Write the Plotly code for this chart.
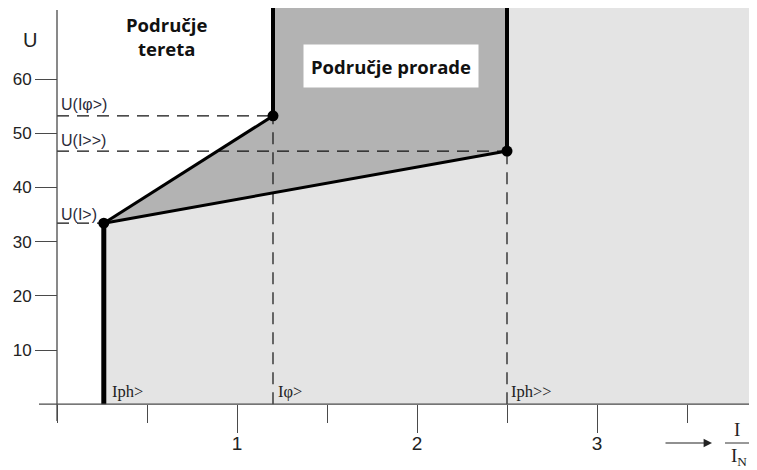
import plotly.graph_objects as go

# ---- data ----
I_ph_lo = 0.26      # Iph>
I_phi = 1.2         # Iphi>
I_ph_hi = 2.5       # Iph>>
U_lo = 33.4         # U(I>)
U_phi = 53.2        # U(Iphi>)
U_hi = 46.7         # U(I>>)
U_top = 73.1
I_right = 3.85
y_ticks = [10, 20, 30, 40, 50, 60]
x_major = [1, 2, 3]
x_major_labels = ["1", "2", "3"]

# page has an 8px body margin -> figure drawn 8px smaller and offset
OFF = 8
W, H = 757 - OFF, 470 - OFF
PX_X0, PX_PER_X = 57, 180.0        # page pixel of x=0
PX_Y0, PX_PER_Y = 404.2, 5.42      # page pixel of y=0
FX0, FY0 = PX_X0 - OFF, PX_Y0 - OFF  # figure pixels
xr = [-FX0 / PX_PER_X, (W - FX0) / PX_PER_X]
yr = [-(H - FY0) / PX_PER_Y, FY0 / PX_PER_Y]
def px_x(p): return (p - PX_X0) / PX_PER_X
def px_y(p): return (PX_Y0 - p) / PX_PER_Y

fig = go.Figure()

# light region
fig.add_trace(go.Scatter(
    x=[I_ph_lo, I_ph_lo, I_ph_hi, I_ph_hi, I_right, I_right],
    y=[0, U_lo, U_hi, U_top, U_top, 0],
    fill="toself", fillcolor="#e4e4e4", line=dict(width=0), mode="lines",
    hoverinfo="skip"))
# dark region
fig.add_trace(go.Scatter(
    x=[I_ph_lo, I_phi, I_phi, I_ph_hi, I_ph_hi, I_ph_lo],
    y=[U_lo, U_phi, U_top, U_top, U_hi, U_lo],
    fill="toself", fillcolor="#b3b3b3", line=dict(width=0), mode="lines",
    hoverinfo="skip"))

dash = "12px,8px"
# dashed guides
for xs, ys in [
    ([0, I_phi], [U_phi, U_phi]),
    ([0, I_ph_hi], [U_hi, U_hi]),
    ([0, I_ph_lo], [U_lo, U_lo]),
    ([I_phi, I_phi], [0, U_phi]),
    ([I_ph_hi, I_ph_hi], [0, U_hi]),
]:
    fig.add_trace(go.Scatter(x=xs, y=ys, mode="lines",
                             line=dict(color="#111", width=1.2, dash=dash),
                             hoverinfo="skip"))

# thick boundary lines
top_line = px_y(4)
fig.add_trace(go.Scatter(x=[I_ph_lo, I_ph_lo], y=[0, U_lo], mode="lines",
                         line=dict(color="black", width=5), hoverinfo="skip"))
fig.add_trace(go.Scatter(x=[I_ph_lo, I_phi], y=[U_lo, U_phi], mode="lines",
                         line=dict(color="black", width=3), hoverinfo="skip"))
fig.add_trace(go.Scatter(x=[I_ph_lo, I_ph_hi], y=[U_lo, U_hi], mode="lines",
                         line=dict(color="black", width=3), hoverinfo="skip"))
fig.add_trace(go.Scatter(x=[I_phi, I_phi], y=[U_phi, top_line], mode="lines",
                         line=dict(color="black", width=4), hoverinfo="skip"))
fig.add_trace(go.Scatter(x=[I_ph_hi, I_ph_hi], y=[U_hi, top_line], mode="lines",
                         line=dict(color="black", width=4), hoverinfo="skip"))
fig.add_trace(go.Scatter(x=[I_ph_lo, I_phi, I_ph_hi], y=[U_lo, U_phi, U_hi],
                         mode="markers", marker=dict(color="black", size=11),
                         hoverinfo="skip"))

axis_col = "#4a4a4a"
shapes = [
    # x axis line
    dict(type="line", xref="x", yref="y", x0=px_x(39), x1=xr[1], y0=0, y1=0,
         line=dict(color=axis_col, width=1.3)),
    # y axis line
    dict(type="line", xref="x", yref="y", x0=0, x1=0, y0=px_y(421), y1=px_y(10),
         line=dict(color=axis_col, width=1.3)),
    # fraction bar
    dict(type="line", xref="x", yref="y", x0=px_x(725), x1=px_x(752),
         y0=px_y(443), y1=px_y(443), line=dict(color="#333", width=1)),
]

ann = []
lab_font = dict(family="Liberation Sans, Arial", size=16, color="#2a2a3a")
for txt, yy in [("U(Iφ>)", px_y(104)), ("U(I>>)", px_y(140)), ("U(I>)", px_y(214))]:
    ann.append(dict(x=px_x(59), y=yy, text=txt, showarrow=False, xanchor="left",
                    yanchor="middle", font=lab_font))
ser_font = dict(family="Liberation Serif, Times New Roman", size=16.5, color="#222")
for txt, xx in [("Iph>", px_x(110)), ("Iφ>", px_x(276)), ("Iph>>", px_x(509))]:
    ann.append(dict(x=xx, y=px_y(391), text=txt, showarrow=False, xanchor="left",
                    yanchor="middle", font=ser_font))
bold = dict(family="Open Sans, Noto Sans", size=18.5, color="#111")
ann.append(dict(x=px_x(166), y=px_y(36), text="<b>Područje<br>tereta</b>",
                showarrow=False, font=bold, align="center"))
ann.append(dict(x=px_x(391), y=px_y(66), text="<b>Područje prorade</b>",
                showarrow=False, font=bold, bgcolor="white", width=172, height=40))
ann.append(dict(x=px_x(30), y=px_y(40), text="U", showarrow=False,
                font=dict(family="Liberation Sans, Arial", size=20, color="#222")))
# y-axis arrow head
ann.append(dict(x=0, y=px_y(3), ax=0, ay=22, xref="x", yref="y", text="",
                showarrow=True, arrowhead=2, arrowsize=1.6, arrowwidth=1.2,
                arrowcolor="#222"))
# x-axis arrow
ann.append(dict(x=px_x(712), y=px_y(443), ax=px_x(664), ay=px_y(443),
                axref="x", ayref="y", text="", showarrow=True, arrowhead=2,
                arrowsize=1.4, arrowwidth=1.2, arrowcolor="#222"))
frac_font = dict(family="Liberation Serif, Times New Roman", size=19, color="#222")
ann.append(dict(x=px_x(737), y=px_y(429), text="I", showarrow=False, font=frac_font))
ann.append(dict(x=px_x(739), y=px_y(457), text="I<sub>N</sub>", showarrow=False,
                font=frac_font))

fig.update_layout(
    width=W, height=H, margin=dict(l=0, r=0, t=0, b=0),
    paper_bgcolor="white", plot_bgcolor="white", showlegend=False,
    shapes=shapes, annotations=ann,
    xaxis=dict(range=xr, anchor="free", position=(H - FY0) / H,
               showgrid=False, zeroline=False, showline=False,
               tickmode="array", tickvals=x_major, ticktext=x_major_labels,
               ticks="outside", ticklen=28, tickwidth=1.3, tickcolor=axis_col,
               ticklabelstandoff=-6,
               tickfont=dict(family="Liberation Sans, Arial", size=19, color="#222"),
               minor=dict(ticks="outside", tickmode="array",
                          tickvals=[0, 0.5, 1.5, 2.5, 3.5],
                          ticklen=18, tickwidth=1.3, tickcolor=axis_col)),
    yaxis=dict(range=yr, anchor="free", position=FX0 / W,
               showgrid=False, zeroline=False, showline=False,
               tickmode="array", tickvals=y_ticks,
               ticks="outside", ticklen=22, tickwidth=1.3, tickcolor=axis_col,
               tickfont=dict(family="Liberation Sans, Arial", size=17, color="#222")),
)

fig.write_html("out.html")
